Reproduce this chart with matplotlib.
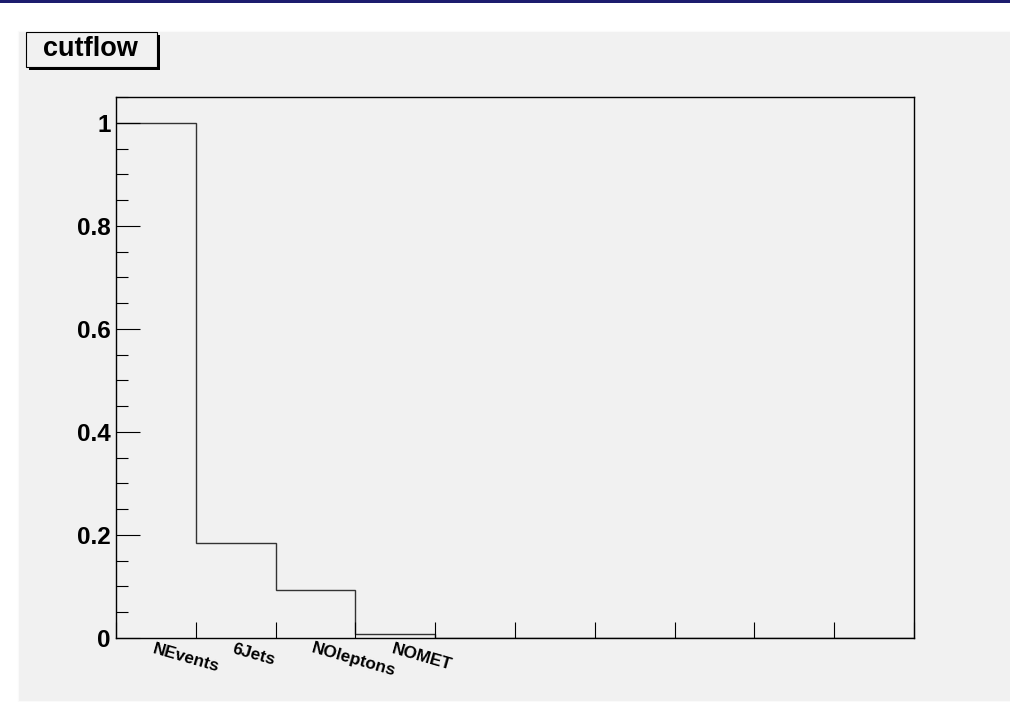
import matplotlib
matplotlib.use("Agg")
import matplotlib.pyplot as plt
from matplotlib.patches import Rectangle
import matplotlib.transforms as mtransforms
import numpy as np

# Data
categories = ["NEvents", "6Jets", "NOleptons", "NOMET"]
values = [1.0, 0.185, 0.093, 0.0085, 0, 0, 0, 0, 0, 0]
ytick_vals = [0, 0.2, 0.4, 0.6, 0.8, 1.0]
ytick_labels = ["0", "0.2", "0.4", "0.6", "0.8", "1"]
title = "cutflow"

plt.rcParams['font.family'] = ['Liberation Sans', 'DejaVu Sans']
plt.rcParams['font.weight'] = 'bold'

W, H = 1010, 702
fig = plt.figure(figsize=(W / 100, H / 100), dpi=100, facecolor='white')

def fx(px):
    return px / W

def fy(py):
    return 1 - py / H

gray = '#f1f1f1'
# top navy bar
fig.patches.append(Rectangle((0, fy(3)), 1, 3 / H, transform=fig.transFigure,
                             facecolor='#1c1c6e', edgecolor='none', zorder=-10))
# canvas gray
fig.patches.append(Rectangle((fx(18), fy(701)), 1 - fx(18), (701 - 31) / H,
                             transform=fig.transFigure, facecolor=gray,
                             edgecolor='#fafafa', linewidth=0.8, zorder=-10))

left, right, top, bottom = 116, 914, 97, 638
ax = fig.add_axes([fx(left), fy(bottom), fx(right - left), (bottom - top) / H])
ax.set_facecolor(gray)
ax.set_zorder(1)

nb = len(values)
edges = np.arange(nb + 1)
ax.stairs(values, edges, baseline=None, color='#333333', linewidth=1.0)
ax.set_xlim(0, nb)
ax.set_ylim(0, 1.05)

for s in ['top', 'right', 'left', 'bottom']:
    ax.spines[s].set_linewidth(1.0)
    ax.spines[s].set_color('black')

ax.set_yticks(ytick_vals)
ax.set_yticklabels(ytick_labels, fontsize=17.5, fontweight='bold')
ax.set_yticks(np.arange(0, 1.0501, 0.05), minor=True)
ax.tick_params(axis='y', which='major', direction='in', length=17.3, width=0.8,
               pad=4.0, right=False)
ax.tick_params(axis='y', which='minor', direction='in', length=8.6, width=0.8,
               right=False)
ax.set_xticks(edges)
ax.set_xticklabels([])
ax.tick_params(axis='x', which='major', direction='in', length=11.5, width=0.8,
               top=False)

# rotated bin labels
trans = mtransforms.offset_copy(ax.get_xaxis_transform(), fig=fig,
                                x=-1.0, y=-3.0, units='dots')
for i, lab in enumerate(categories):
    ax.text(i + 0.5, 0, lab, transform=trans, rotation=-16,
            rotation_mode='anchor', ha='left', va='top',
            fontsize=12.3, fontweight='bold', clip_on=False)

# title box with shadow
bx0, by0, bx1, by1 = 26, 32, 157, 67
fig.patches.append(Rectangle((fx(bx0 + 3), fy(by1 + 3)), fx(bx1 - bx0), (by1 - by0) / H,
                             transform=fig.transFigure, facecolor='black',
                             edgecolor='none', zorder=2))
fig.patches.append(Rectangle((fx(bx0), fy(by1)), fx(bx1 - bx0), (by1 - by0) / H,
                             transform=fig.transFigure, facecolor=gray,
                             edgecolor='black', linewidth=0.8, zorder=3))
fig.text(fx((bx0 + bx1) / 2) - 0.001, fy((by0 + by1) / 2), title, ha='center', va='center',
         fontsize=19.5, fontweight='bold', zorder=4)

fig.savefig('out.png', dpi=100, facecolor='white')
